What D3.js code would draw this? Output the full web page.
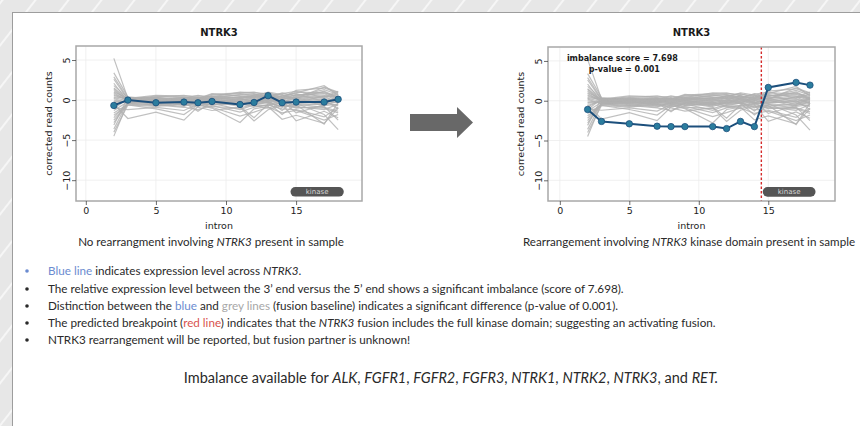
<!DOCTYPE html>
<html>
<head>
<meta charset="utf-8">
<script src="https://cdn.jsdelivr.net/npm/d3@7"></script>
<style>
  html, body { margin: 0; padding: 0; background: #ebebeb; }
  svg { display: block; }
</style>
</head>
<body>
<svg id="chart"></svg>
<script>
// intron positions shared by every line
const introns = [2, 3, 5, 7, 8, 9, 11, 12, 13, 14, 15, 17, 18];

// blue line, sample without rearrangement
const normalSample = [-0.67, 0.0, -0.33, -0.25, -0.33, -0.17, -0.55, -0.3, 0.55, -0.33, -0.25, -0.25, 0.1];
// blue line, sample with NTRK3 fusion
const fusionSample = [-1.1, -2.6, -2.9, -3.2, -3.25, -3.25, -3.25, -3.5, -2.6, -3.25, 1.67, 2.3, 1.96];

// grey lines, fusion baseline
const baseline = [
  [5.2, 0.2, 0.3, 0.1, -0.2, 0.4, 0.6, 0.8, 0.2, 0.5, 0.9, 1.8, 0.6],
  [-4.5, -0.3, -0.4, -0.6, -0.3, -0.1, -0.5, -0.2, 0.1, -0.6, -0.8, -1.2, -0.5],
  [2.6, 0.1, 0.5, 0.4, 0.2, 0.7, 0.9, 1.0, 0.6, 0.3, 1.2, 1.5, 0.9],
  [-0.5, -2.3, -1.5, -2.5, -0.8, -0.4, -1.2, -0.6, -0.3, -1.8, -0.5, -0.9, -1.4],
  [1.8, 0.3, 0.2, 0.0, 0.1, 0.5, 0.3, 0.6, 0.9, 0.4, 0.2, 1.1, 0.3],
  [-2.8, -0.4, -0.2, -0.3, -1.4, -0.2, -0.8, -2.2, -0.5, -0.1, -1.6, -0.6, -0.2],
  [0.9, -0.1, 0.1, -0.2, 0.0, 0.3, 0.2, -0.1, 0.4, -0.3, 0.6, 0.8, 0.1],
  [-1.6, -0.5, -0.7, -0.4, -0.6, -1.0, -2.8, -1.1, -0.8, -2.4, -1.9, -2.9, -1.0],
  [3.4, 0.4, 0.1, 0.3, 0.2, 0.8, 0.5, 0.4, 1.0, 0.7, 0.1, 0.4, 1.1],
  [-3.6, -0.2, -0.5, -0.8, -0.2, -0.6, -0.3, -0.4, -0.2, -0.9, -0.4, -1.8, -3.7],
  [1.2, 0.0, -0.2, 0.2, -0.4, 0.1, -0.1, 0.3, 0.2, 0.1, -0.3, 0.5, -0.4],
  [-1.0, -1.2, -0.9, -1.3, -0.5, -0.3, -0.6, 0.1, -0.4, 0.6, 0.8, -0.2, 0.4],
  [0.4, 0.2, 0.4, 0.6, 0.3, 0.2, 0.7, 0.5, 0.3, 0.9, 0.5, 1.3, 0.7],
  [-2.2, -0.3, -0.1, -0.5, -0.7, -0.4, -0.2, -0.7, -1.0, -0.5, -2.6, -1.4, -2.2],
  [2.1, -0.2, 0.2, 0.1, 0.4, 0.0, 0.4, 0.2, -0.1, 0.2, 0.3, -0.5, 0.2],
  [-0.8, 0.1, -0.3, -0.1, -0.1, -0.5, -0.4, -0.3, 0.0, -0.2, -0.1, -0.3, -0.7],
  [0.2, -0.4, -0.6, -0.9, -1.2, -0.7, -1.5, -0.9, -0.6, -1.1, -1.2, -2.1, -0.9],
  [-3.1, 0.3, 0.0, 0.3, 0.1, 0.6, 0.8, 0.7, 0.5, 0.2, 1.0, 0.9, 0.5],
  [1.5, 0.1, -0.4, -0.3, 0.2, -0.2, 0.1, 0.0, 0.7, -0.4, 0.4, 0.2, -0.1],
  [-1.9, -0.6, -0.8, -0.5, -0.9, -1.3, -0.9, -2.6, -1.2, -0.7, -0.9, -1.0, -1.6],
  [0.6, 0.0, 0.3, 0.0, -0.3, 0.2, 0.0, 0.4, 0.1, 0.0, 0.7, 0.6, 0.0],
  [-0.2, -0.1, 0.0, -0.7, -0.4, -0.8, -1.0, -0.5, -0.3, -0.8, -0.6, -3.0, -0.3],
  [2.9, 0.2, 0.6, 0.5, 0.5, 0.4, 1.0, 0.9, 0.8, 0.6, 0.2, 1.6, 1.0],
  [-1.3, -0.2, -0.3, -0.2, 0.3, -0.1, -0.2, -0.6, -0.7, -0.3, -0.3, 0.0, -1.1],
  [0.0, -0.3, -0.1, -0.4, -0.2, 0.1, -0.7, -0.2, -0.1, -1.3, 0.1, -0.7, -0.5],
  [-4.0, -0.6, -1.1, -1.8, -0.6, -0.9, -2.0, -1.5, -0.9, -1.6, -1.3, -2.5, -1.8],
  [1.0, 0.2, 0.1, 0.2, 0.6, 0.3, 0.3, 0.5, 0.4, 0.8, 1.1, 0.3, 0.8],
  [-0.6, 0.0, -0.2, 0.0, -0.1, -0.3, 0.2, -0.4, 0.3, -0.2, -0.7, -0.4, 0.3],
  [0.3, -0.1, 0.0, -0.1, 0.1, 0.0, -0.3, 0.1, -0.2, 0.3, 0.0, 0.1, -0.2],
  [-2.5, -0.4, -0.6, -0.2, -0.3, -0.6, -0.5, -0.8, -0.6, -0.4, -1.0, -0.8, -2.5],
  [0.7, 0.1, 0.2, 0.3, 0.0, 0.1, 0.4, 0.3, 0.6, 0.1, 0.4, 0.5, 0.4],
  [-0.3, -0.2, -0.2, -0.1, -0.5, -0.2, -0.1, -0.2, -0.3, 0.0, -0.4, -0.6, -0.1],
  [1.4, -0.1, 0.3, -0.1, 0.3, 0.2, 0.1, 0.6, 0.5, 0.4, 0.6, 1.0, 0.2],
  [-1.1, 0.2, -0.1, 0.1, 0.2, -0.1, -0.4, -0.1, 0.2, -0.4, -0.2, -0.1, -0.3]
];

const xTicks = [0, 5, 10, 15];
const yTicks = [5, 0, -5, -10];
const kinaseDomain = [14.6, 18.4];
const breakpoint = 14.5;
const geneName = "NTRK3";

const width = 860;
const height = 426;

const svg = d3.select("#chart")
    .attr("width", width)
    .attr("height", height)
    .style("font-family", "'DejaVu Sans', sans-serif");

// striped slide background
const defs = svg.append("defs");
const pat = defs.append("pattern")
    .attr("id", "stripes")
    .attr("patternUnits", "userSpaceOnUse")
    .attr("width", 26).attr("height", 26)
    .attr("patternTransform", "rotate(38)");
pat.append("rect").attr("width", 26).attr("height", 26).attr("fill", "#e7e7e7");
pat.append("line").attr("x1", 2).attr("x2", 2).attr("y1", 0).attr("y2", 26)
    .attr("stroke", "#f8f8f8").attr("stroke-width", 1.8);

svg.append("rect").attr("width", width).attr("height", height).attr("fill", "url(#stripes)");

// white card
svg.append("rect")
    .attr("x", 12.5).attr("y", 12.5)
    .attr("width", width).attr("height", height)
    .attr("fill", "#fff")
    .attr("stroke", "#9d9d9d")
    .attr("stroke-width", 1);

function panel({left, right, top, bottom, xDomain, sample, showBreak, annotation}) {
  const g = svg.append("g");

  const x = d3.scaleLinear().domain(xDomain).range([left, right]);
  const y = d3.scaleLinear().domain([-12.6, 6.75]).range([bottom, top]);

  g.append("rect")
      .attr("x", left).attr("y", top)
      .attr("width", right - left).attr("height", bottom - top)
      .attr("fill", "#fff");

  // grid
  g.append("g").selectAll("line").data(xTicks).join("line")
      .attr("x1", d => x(d)).attr("x2", d => x(d))
      .attr("y1", top).attr("y2", bottom)
      .attr("stroke", "#ececec").attr("stroke-width", 0.8);
  g.append("g").selectAll("line").data(yTicks).join("line")
      .attr("y1", d => y(d)).attr("y2", d => y(d))
      .attr("x1", left).attr("x2", right)
      .attr("stroke", "#ececec").attr("stroke-width", 0.8);

  const line = d3.line()
      .x((d, i) => x(introns[i]))
      .y(d => y(d));

  g.append("g").selectAll("path").data(baseline).join("path")
      .attr("d", line)
      .attr("fill", "none")
      .attr("stroke", "#b0b0b0")
      .attr("stroke-opacity", 0.8)
      .attr("stroke-width", 1.2);

  // kinase domain pill
  const pillY = y(-11.45);
  g.append("rect")
      .attr("x", x(kinaseDomain[0])).attr("y", pillY - 4.8)
      .attr("width", x(kinaseDomain[1]) - x(kinaseDomain[0]))
      .attr("height", 9.6)
      .attr("rx", 4.8)
      .attr("fill", "#555");
  g.append("text")
      .attr("x", (x(kinaseDomain[0]) + x(kinaseDomain[1])) / 2)
      .attr("y", pillY)
      .attr("dy", "0.35em")
      .attr("text-anchor", "middle")
      .attr("font-size", 7)
      .attr("fill", "#d6d6d6")
      .text("kinase");

  if (showBreak) {
    g.append("line")
        .attr("x1", x(breakpoint)).attr("x2", x(breakpoint))
        .attr("y1", top).attr("y2", bottom)
        .attr("stroke", "#d42a2a")
        .attr("stroke-width", 1.4)
        .attr("stroke-dasharray", "2.5,2");
  }

  g.append("path")
      .datum(sample)
      .attr("d", line)
      .attr("fill", "none")
      .attr("stroke", "#1c4f7c")
      .attr("stroke-width", 2);

  g.append("g").selectAll("circle").data(sample).join("circle")
      .attr("cx", (d, i) => x(introns[i]))
      .attr("cy", d => y(d))
      .attr("r", 3.2)
      .attr("fill", "#2b7d9e")
      .attr("stroke", "#1c4f7c")
      .attr("stroke-width", 0.8);

  if (annotation) {
    const ax = x(4.5);
    annotation.forEach((t, i) => {
      g.append("text")
          .attr("x", ax + (i ? 2 : 0))
          .attr("y", top + 11 + i * 11)
          .attr("dy", "0.35em")
          .attr("text-anchor", "middle")
          .attr("font-size", 8)
          .attr("font-weight", "bold")
          .attr("fill", "#1a1a1a")
          .text(t);
    });
  }

  // frame
  g.append("rect")
      .attr("x", left).attr("y", top)
      .attr("width", right - left).attr("height", bottom - top)
      .attr("fill", "none")
      .attr("stroke", "#a8a8a8")
      .attr("stroke-width", 1.5);

  // x axis
  const xAxis = g.append("g")
      .attr("transform", `translate(0,${bottom})`)
      .call(d3.axisBottom(x).tickValues(xTicks).tickSize(4).tickPadding(2));
  xAxis.select(".domain").remove();
  xAxis.selectAll(".tick line").attr("stroke", "#444").attr("stroke-width", 0.8);
  xAxis.selectAll(".tick text")
      .attr("font-family", "'DejaVu Sans', sans-serif")
      .attr("font-size", 9.5).attr("fill", "#222");

  // y axis with rotated labels
  const yAxis = g.append("g")
      .attr("transform", `translate(${left},0)`)
      .call(d3.axisLeft(y).tickValues(yTicks).tickSize(4).tickFormat(d3.format("d")));
  yAxis.select(".domain").remove();
  yAxis.selectAll(".tick line").attr("stroke", "#444").attr("stroke-width", 0.8);
  yAxis.selectAll(".tick text")
      .attr("font-family", "'DejaVu Sans', sans-serif")
      .attr("font-size", 9.5).attr("fill", "#222")
      .attr("x", null).attr("dy", null)
      .attr("text-anchor", "middle")
      .attr("transform", "translate(-6.5,0) rotate(-90)");

  g.append("text")
      .attr("x", (left + right) / 2).attr("y", 32)
      .attr("dy", "0.35em")
      .attr("text-anchor", "middle")
      .attr("font-size", 10).attr("font-weight", "bold")
      .attr("fill", "#1a1a1a")
      .text(geneName);

  g.append("text")
      .attr("x", (left + right) / 2).attr("y", 226)
      .attr("dy", "0.35em")
      .attr("text-anchor", "middle")
      .attr("font-size", 9.5).attr("fill", "#222")
      .text("intron");

  g.append("text")
      .attr("transform", `translate(${left - 27},${(top + bottom) / 2}) rotate(-90)`)
      .attr("dy", "0.35em")
      .attr("text-anchor", "middle")
      .attr("font-size", 9.5).attr("fill", "#222")
      .text("corrected read counts");
}

panel({left: 76, right: 362, top: 46, bottom: 201, xDomain: [-0.7, 19.7], sample: normalSample});
panel({left: 548, right: 835, top: 47, bottom: 201, xDomain: [-0.85, 19.8], sample: fusionSample,
       showBreak: true, annotation: ["imbalance score = 7.698", "p-value = 0.001"]});

// arrow between the panels
svg.append("path")
    .attr("d", "M410,114 L457,114 L457,107 L473,122.5 L457,138 L457,131 L410,131 Z")
    .attr("fill", "#686868");

// slide text
const bodyFont = "Lato, 'Open Sans', sans-serif";
const blue = "#6b8bd0", grey = "#a8a8a8", red = "#d9534f", ink = "#2a2a2a";

function richText(sel, parts) {
  parts.forEach(p => {
    sel.append("tspan")
        .attr("fill", p.c || ink)
        .attr("font-style", p.i ? "italic" : null)
        .text(p.t);
  });
}

const captions = [
  {x: 211, parts: [{t: "No rearrangment involving "}, {t: "NTRK3", i: true}, {t: " present in sample"}]},
  {x: 689, parts: [{t: "Rearrangement involving "}, {t: "NTRK3", i: true}, {t: " kinase domain present in sample"}]}
];
captions.forEach(c => {
  const t = svg.append("text")
      .attr("x", c.x).attr("y", 242).attr("dy", "0.35em")
      .attr("text-anchor", "middle")
      .attr("font-family", bodyFont).attr("font-size", 11.6);
  richText(t, c.parts);
});

const bullets = [
  [{t: "Blue line", c: blue}, {t: " indicates expression level across "}, {t: "NTRK3", i: true}, {t: "."}],
  [{t: "The relative expression level between the 3\u2019 end versus the 5\u2019 end shows a significant imbalance (score of 7.698)."}],
  [{t: "Distinction between the "}, {t: "blue", c: blue}, {t: " and "}, {t: "grey lines", c: grey}, {t: " (fusion baseline) indicates a significant difference (p-value of 0.001)."}],
  [{t: "The predicted breakpoint ("}, {t: "red line", c: red}, {t: ") indicates that the "}, {t: "NTRK3", i: true}, {t: " fusion includes the full kinase domain; suggesting an activating fusion."}],
  [{t: "NTRK3 rearrangement will be reported, but fusion partner is unknown!"}]
];
const bulletY = [271, 289, 306, 323, 340];

bullets.forEach((parts, i) => {
  svg.append("circle")
      .attr("cx", 27).attr("cy", bulletY[i])
      .attr("r", 1.8)
      .attr("fill", i === 0 ? blue : ink);
  const t = svg.append("text")
      .attr("x", 48).attr("y", bulletY[i]).attr("dy", "0.35em")
      .attr("font-family", bodyFont).attr("font-size", 11.7);
  richText(t, parts);
});

const footer = [
  {t: "Imbalance available for "}, {t: "ALK", i: true}, {t: ", "}, {t: "FGFR1", i: true}, {t: ", "},
  {t: "FGFR2", i: true}, {t: ", "}, {t: "FGFR3", i: true}, {t: ", "}, {t: "NTRK1", i: true}, {t: ", "},
  {t: "NTRK2", i: true}, {t: ", "}, {t: "NTRK3", i: true}, {t: ", and "}, {t: "RET.", i: true}
];
const ft = svg.append("text")
    .attr("x", 451).attr("y", 378).attr("dy", "0.35em")
    .attr("text-anchor", "middle")
    .attr("font-family", bodyFont).attr("font-size", 14.5);
richText(ft, footer);
</script>
</body>
</html>
